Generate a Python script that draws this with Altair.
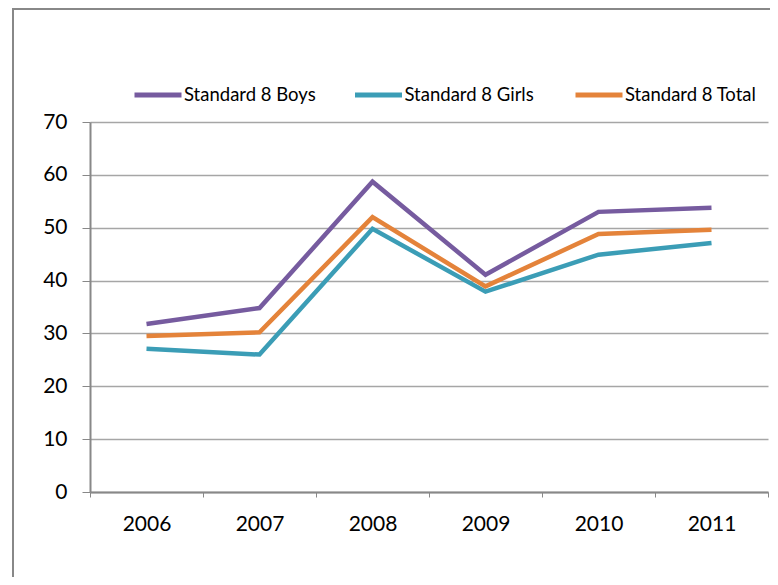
import altair as alt
import pandas as pd

years = ["2006", "2007", "2008", "2009", "2010", "2011"]
series_names = ["Standard 8 Boys", "Standard 8 Girls", "Standard 8 Total"]
boys = [31.8, 34.8, 58.7, 41.1, 53.0, 53.8]
girls = [27.1, 26.0, 49.8, 37.9, 44.9, 47.1]
total = [29.5, 30.2, 52.0, 38.9, 48.8, 49.6]
colors = ["#765B9F", "#3B9DB6", "#E4833A"]

rows = []
for name, vals in zip(series_names, [boys, girls, total]):
    for y, v in zip(years, vals):
        rows.append({"Year": y, "Series": name, "Value": v})
df = pd.DataFrame(rows)

FONT = "Lato"

lines = alt.Chart(df).mark_line(strokeWidth=4.5, strokeJoin="miter").encode(
    x=alt.X("Year:N", sort=years, title=None,
            scale=alt.Scale(paddingInner=0, paddingOuter=0),
            axis=alt.Axis(labelAngle=0, labelFontSize=21, labelFont=FONT, labelColor="#000",
                          labelPadding=16, tickBand="extent", tickSize=5, tickColor="#888",
                          domainColor="#888", domainWidth=2, grid=False)),
    y=alt.Y("Value:Q", title=None,
            scale=alt.Scale(domain=[0, 70], nice=False),
            axis=alt.Axis(values=[0, 10, 20, 30, 40, 50, 60, 70], labelFontSize=21, labelFont=FONT,
                          labelColor="#000", labelPadding=15, tickSize=8, tickColor="#888",
                          domainColor="#888", domainWidth=2, gridColor="#A6A6A6", gridWidth=1.3)),
    color=alt.Color("Series:N", sort=series_names,
                    scale=alt.Scale(domain=series_names, range=colors),
                    legend=alt.Legend(orient="none", legendX=42, legendY=-53, direction="horizontal",
                                      title=None, symbolType="stroke", symbolSize=2209,
                                      symbolStrokeWidth=5, labelFontSize=18.5, labelFont=FONT,
                                      labelColor="#000", columnPadding=28.5, gridAlign="all",
                                      labelOffset=0, labelLimit=300)),
)

border = alt.Chart(pd.DataFrame({"a": [0]})).mark_rect(
    fill=None, stroke="#888", strokeWidth=2, clip=False
).encode(x=alt.value(-77), x2=alt.value(720), y=alt.value(-113), y2=alt.value(520))

chart = alt.layer(border, lines).properties(
    width=678, height=370,
    autosize=alt.AutoSizeParams(type="none"),
    padding={"left": 82, "top": 114, "right": 2, "bottom": 85},
).configure_view(stroke=None)

chart.save("out.html", embed_options={"renderer": "svg", "actions": False})
